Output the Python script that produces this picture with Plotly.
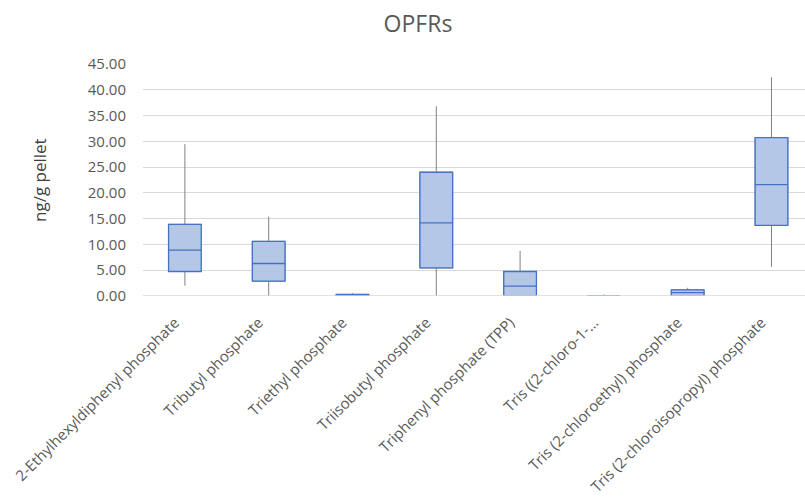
import plotly.graph_objects as go

# OPFR concentrations (ng/g pellet), box-and-whisker summary per compound
compounds = [
    "2-Ethylhexyldiphenyl phosphate",
    "Tributyl phosphate",
    "Triethyl phosphate",
    "Triisobutyl phosphate",
    "Triphenyl phosphate (TPP)",
    "Tris ((2-chloro-1-…",
    "Tris (2-chloroethyl) phosphate",
    "Tris (2-chloroisopropyl) phosphate",
]
whisker_low = [2.0, 0.0, 0.0, 0.0, 0.0, 0.0, 0.0, 5.65]
q1 = [4.75, 2.9, 0.0, 5.45, 0.0, 0.0, 0.0, 13.7]
median = [8.9, 6.3, 0.1, 14.2, 1.9, 0.0, 0.65, 21.6]
q3 = [13.9, 10.6, 0.3, 24.0, 4.75, 0.0, 1.2, 30.7]
whisker_high = [29.45, 15.4, 0.55, 36.8, 8.75, 0.3, 1.6, 42.4]

y_ticks = [0, 5, 10, 15, 20, 25, 30, 35, 40, 45]

text_color = "#595959"
font_family = "Open Sans, Liberation Sans, sans-serif"

fig = go.Figure()

# grey whiskers
fig.add_trace(go.Box(
    x=compounds, q1=q1, median=median, q3=q3,
    lowerfence=whisker_low, upperfence=whisker_high,
    line=dict(color="#808080", width=1),
    fillcolor="rgba(0,0,0,0)",
    whiskerwidth=0, width=0.39, boxpoints=False,
    hoverinfo="skip", showlegend=False,
))

# blue boxes over the whiskers
fig.add_trace(go.Box(
    x=compounds, q1=q1, median=median, q3=q3,
    lowerfence=q1, upperfence=q3,
    line=dict(color="#4472C4", width=1.3),
    fillcolor="#B4C7E7",
    whiskerwidth=0, width=0.39, boxpoints=False,
    showlegend=False,
))

fig.update_layout(
    width=805, height=499,
    margin=dict(l=143, r=0, t=64, b=203),
    paper_bgcolor="white", plot_bgcolor="white",
    boxmode="overlay",
    font=dict(family=font_family, color=text_color, size=14),
    title=dict(
        text="OPFRs", x=418 / 805, xref="container", xanchor="center",
        y=1 - 24 / 499, yref="container", yanchor="middle",
        font=dict(size=23, color=text_color, family=font_family),
    ),
    xaxis=dict(
        tickangle=-45, tickfont=dict(size=15, color=text_color),
        showgrid=False, showline=False, ticks="",
        ticklabelstandoff=14, ticklabelshift=-10,
        range=[-0.5, 7.4],
    ),
    yaxis=dict(
        range=[0, 45], tickvals=y_ticks, tickformat=".2f",
        tickfont=dict(size=15, color=text_color),
        gridcolor="#D9D9D9", gridwidth=1, zeroline=False,
        showline=False, ticks="", ticklabelstandoff=16,
    ),
    annotations=[dict(
        text="ng/g pellet", xref="paper", yref="paper",
        x=-104 / 662, y=0.5, textangle=-90, showarrow=False,
        xanchor="center", yanchor="middle",
        font=dict(size=17, color="#404040", family=font_family),
    )],
    # baseline axis line drawn over the boxes
    shapes=[dict(
        type="line", xref="paper", yref="y", x0=0, x1=1, y0=0, y1=0,
        line=dict(color="#D9D9D9", width=1.5), layer="above",
    )],
)

fig.write_html("out.html")
